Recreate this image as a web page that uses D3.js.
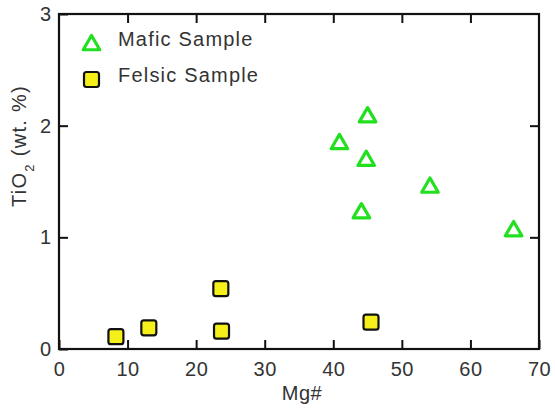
<!DOCTYPE html>
<html>
<head>
<meta charset="utf-8">
<script src="https://cdn.jsdelivr.net/npm/d3@7"></script>
<style>
  html, body { margin: 0; padding: 0; background: #fff; }
  svg { display: block; }
  text { font-family: "Liberation Sans", Arial, sans-serif; fill: #333; }
</style>
</head>
<body>
<svg id="chart" width="555" height="411"></svg>
<script>
// Mg# vs TiO2 for the two sample groups
const maficMg   = [45.0, 40.9, 44.8, 54.1, 44.1, 66.3];
const maficTiO2 = [2.09, 1.85, 1.70, 1.46, 1.23, 1.07];
const felsicMg   = [8.3, 13.1, 23.6, 23.7, 45.5];
const felsicTiO2 = [0.11, 0.19, 0.54, 0.16, 0.24];
const xTicks = [0, 10, 20, 30, 40, 50, 60, 70];
const yTicks = [0, 1, 2, 3];
const legendLabels = ["Mafic Sample", "Felsic Sample"];

const svg = d3.select("#chart");
const plotLeft = 59, plotRight = 539, plotTop = 14, plotBottom = 349;

const x = d3.scaleLinear().domain([0, 70]).range([plotLeft, plotRight]);
const y = d3.scaleLinear().domain([0, 3]).range([plotBottom, plotTop]);

const green = "#22e01f";
const yellow = "#f6f01a";
const fontSize = "20px";

// Frame with inward ticks on all four sides
const tickLen = 9;
const axisStyle = g => {
  g.select(".domain").remove();
  g.selectAll("line").attr("stroke", "#111").attr("stroke-width", 2);
  g.selectAll("text").style("font-size", fontSize).attr("fill", "#333")
    .attr("font-family", "Liberation Sans, Arial, sans-serif");
};

svg.append("g").attr("transform", `translate(0,${plotBottom})`)
  .call(d3.axisBottom(x).tickValues(xTicks).tickSizeInner(-tickLen).tickSizeOuter(0).tickPadding(13))
  .call(axisStyle)
  .call(g => g.selectAll("text").style("letter-spacing", "0.5px"));

svg.append("g").attr("transform", `translate(0,${plotTop})`)
  .call(d3.axisTop(x).tickValues(xTicks.slice(1, -1)).tickSizeInner(-tickLen).tickSizeOuter(0).tickFormat(""))
  .call(axisStyle);

svg.append("g").attr("transform", `translate(${plotLeft},0)`)
  .call(d3.axisLeft(y).tickValues(yTicks).tickSizeInner(-tickLen).tickSizeOuter(0).tickPadding(8).tickFormat(d3.format("d")))
  .call(axisStyle);

svg.append("g").attr("transform", `translate(${plotRight},0)`)
  .call(d3.axisRight(y).tickValues(yTicks.slice(1, -1)).tickSizeInner(-tickLen).tickSizeOuter(0).tickFormat(""))
  .call(axisStyle);

svg.append("rect")
  .attr("x", plotLeft).attr("y", plotTop)
  .attr("width", plotRight - plotLeft).attr("height", plotBottom - plotTop)
  .attr("fill", "none").attr("stroke", "#111").attr("stroke-width", 2.2);

// Axis titles
svg.append("text")
  .attr("x", 302).attr("y", 400)
  .attr("text-anchor", "middle")
  .style("font-size", fontSize)
  .style("letter-spacing", "0.5px")
  .text("Mg#");

const yTitle = svg.append("text")
  .attr("transform", "translate(26,146) rotate(-90)")
  .attr("text-anchor", "middle")
  .style("font-size", fontSize)
  .style("letter-spacing", "1.3px");
yTitle.append("tspan").text("TiO");
yTitle.append("tspan").attr("baseline-shift", "sub").style("font-size", "13px").text("2");
yTitle.append("tspan").text(" (wt. %)");

// Marker shapes
const triSize = 118;
const triPath = d3.symbol().type(d3.symbolTriangle).size(triSize);

function drawTriangle(sel) {
  sel.attr("d", triPath())
    .attr("fill", "#fff")
    .attr("stroke", green)
    .attr("stroke-width", 3.2)
    .attr("stroke-linejoin", "round");
}
function drawSquare(sel) {
  sel.attr("x", -7.5).attr("y", -7.5)
    .attr("width", 15).attr("height", 15)
    .attr("rx", 2.5)
    .attr("fill", yellow)
    .attr("stroke", "#111")
    .attr("stroke-width", 2.2);
}

// Felsic squares
svg.append("g").selectAll("rect")
  .data(felsicMg.map((m, i) => [m, felsicTiO2[i]]))
  .join("rect")
  .call(drawSquare)
  .attr("transform", d => `translate(${x(d[0])},${y(d[1])})`);

// Mafic triangles (centroid shifted so the box is centred on the value)
svg.append("g").selectAll("path")
  .data(maficMg.map((m, i) => [m, maficTiO2[i]]))
  .join("path")
  .call(drawTriangle)
  .attr("transform", d => `translate(${x(d[0])},${y(d[1]) + 1.5})`);

// Legend
const legend = svg.append("g");
legend.append("path").call(drawTriangle).attr("transform", "translate(91.5,45)");
legend.append("rect").call(drawSquare).attr("transform", "translate(91.5,79.5)");
legend.selectAll("text")
  .data(legendLabels)
  .join("text")
  .attr("x", 118)
  .attr("y", (d, i) => 46 + i * 36)
  .style("font-size", "20px")
  .style("letter-spacing", "1.2px")
  .text(d => d);
</script>
</body>
</html>
